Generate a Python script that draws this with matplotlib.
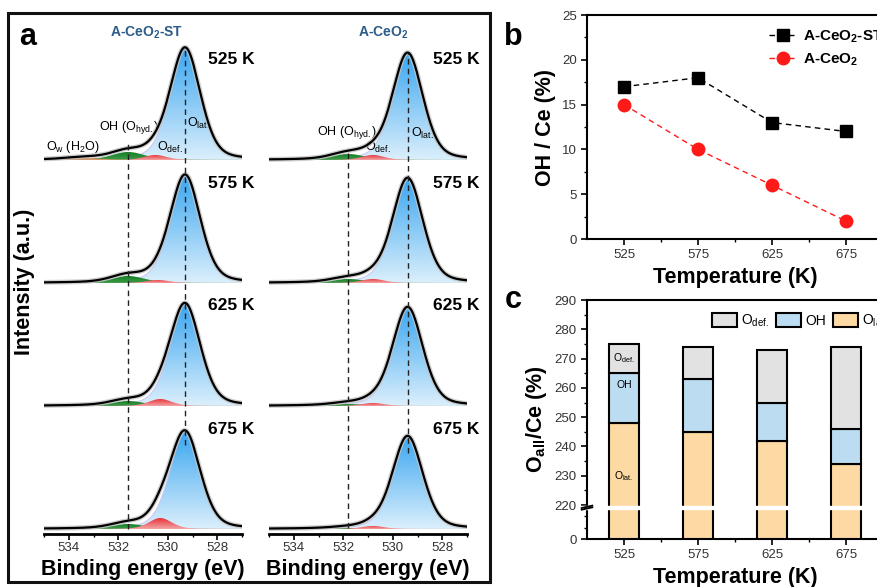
import numpy as np
import matplotlib.pyplot as plt
from matplotlib.colors import LinearSegmentedColormap
from matplotlib.patches import Rectangle, PathPatch

plt.rcParams['font.family'] = ['Liberation Sans', 'DejaVu Sans']
plt.rcParams['mathtext.fontset'] = 'custom'
plt.rcParams['mathtext.rm'] = 'Liberation Sans'
plt.rcParams['mathtext.it'] = 'Liberation Sans:italic'
plt.rcParams['mathtext.bf'] = 'Liberation Sans:bold'

# ---- data ----
temps = [525, 575, 625, 675]
temp_labels = ['525 K', '575 K', '625 K', '675 K']

# panel a: fitted XPS O 1s components (height in a.u., position/fwhm in eV)
offsets = [369, 246, 123, 0]
st_lat_pos, st_oh_pos, st_w_pos = 529.3, 531.6, 533.4
st_def_pos = [530.5, 530.4, 530.3, 530.3]
st_lat_h = [112, 108, 102, 97]
st_oh_h = [8, 7, 5, 5]
st_def_h = [5, 3, 7, 11]
st_w_h = [2, 0, 0, 0]
ce_lat_pos, ce_oh_pos, ce_def_pos = 529.4, 531.8, 530.8
ce_lat_h = [107, 105, 99, 93]
ce_oh_h = [6, 4, 2, 1]
ce_def_h = [5, 4, 3, 3]
fwhm_lat, fwhm_oh, fwhm_def, fwhm_w = 1.45, 1.6, 1.1, 1.8

# panel b
oh_st = [17, 18, 13, 12]
oh_ce = [15, 10, 6, 2]

# panel c
o_lat = [248, 245, 242, 234]
o_oh = [17, 18, 13, 12]
o_def = [10, 11, 18, 28]

W, H = 878, 587
fig = plt.figure(figsize=(W / 100, H / 100), dpi=100)


def px(x0, y0, x1, y1):
    # pixel box -> figure fraction [left, bottom, width, height]
    return [x0 / W, 1 - y1 / H, (x1 - x0) / W, (y1 - y0) / H]


def peak(x, c, h, fwhm, eta=0.3):
    s = fwhm / 2.3548
    g = np.exp(-(x - c) ** 2 / (2 * s ** 2))
    l = 1 / (1 + ((x - c) / (fwhm / 2)) ** 2)
    return h * ((1 - eta) * g + eta * l)


def grad_fill(ax, x, y0, y, c_top, c_bot, z):
    poly = ax.fill_between(x, y0, y, color='none', lw=0)
    patch = PathPatch(poly.get_paths()[0], transform=ax.transData, fc='none', ec='none')
    ax.add_patch(patch)
    cmap = LinearSegmentedColormap.from_list('g', [c_bot, c_top])
    img = np.linspace(0, 1, 100).reshape(-1, 1)
    im = ax.imshow(img, extent=[x.min(), x.max(), y0, y.max() + 0.01], origin='lower',
                   aspect='auto', cmap=cmap, zorder=z, interpolation='bilinear')
    im.set_clip_path(patch)


x = np.linspace(527, 535, 600)


def spectra(ax, lat_pos, lat_h, oh_pos, oh_h, def_pos, def_h, w_h):
    for i in range(4):
        b = offsets[i]
        dp = def_pos[i] if isinstance(def_pos, list) else def_pos
        lat = peak(x, lat_pos, lat_h[i], fwhm_lat)
        oh = peak(x, oh_pos, oh_h[i], fwhm_oh)
        de = peak(x, dp, def_h[i], fwhm_def)
        ow = peak(x, st_w_pos, w_h[i], fwhm_w) if w_h else 0 * x
        env = lat + oh + de + ow
        grad_fill(ax, x, b, b + lat, '#3aa6f0', '#dbeffc', 2)
        ax.plot(x, b + lat, color='#c9c4f4', lw=0.7, zorder=2.1)
        if oh_h[i] > 0:
            grad_fill(ax, x, b, b + oh, '#137a24', '#3c9c48', 3)
        grad_fill(ax, x, b, b + de, '#e8262e', '#f3a5a5', 3.5)
        if w_h and w_h[i] > 0:
            grad_fill(ax, x, b, b + ow, '#b86a2a', '#d9a070', 3.2)
        ax.plot(x, b + env, color='#c2c2c2', lw=3.5, alpha=0.8, zorder=4)
        ax.plot(x, b + env, color='black', lw=1.6, zorder=5)
        ax.text(527.43, b + 100, temp_labels[i], ha='center', va='center',
                fontsize=12.5, fontweight='bold')
    ax.set_xlim(535, 527)
    ax.set_ylim(-5, 499)
    ax.set_yticks([])
    for s in ['left', 'right', 'top']:
        ax.spines[s].set_visible(False)
    ax.spines['bottom'].set_linewidth(2)
    ax.set_xticks([534, 532, 530, 528])
    ax.set_xticks(np.arange(527, 535.1, 1), minor=True)
    ax.tick_params(axis='x', which='major', length=4, width=1.2, labelsize=9.5,
                   labelcolor='#333333', pad=2)
    ax.tick_params(axis='x', which='minor', length=2.5, width=1)
    ax.set_xlabel('Binding energy (eV)', fontsize=15.5, fontweight='bold', labelpad=3)


# panel a left
axL = fig.add_axes(px(44, 30, 242, 534))
spectra(axL, st_lat_pos, st_lat_h, st_oh_pos, st_oh_h, st_def_pos, st_def_h, st_w_h)
axL.plot([531.6, 531.6], [0, 388], ls=(0, (4, 3)), color='#222222', lw=1, zorder=6)
axL.plot([529.3, 529.3], [84, 482], ls=(0, (4, 3)), color='#222222', lw=1, zorder=6)
axL.text(533.84, 382, r'O$_\mathrm{w}$ (H$_2$O)', ha='center', va='center', fontsize=9)
axL.text(531.55, 401, r'OH (O$_\mathrm{hyd.}$)', ha='center', va='center', fontsize=9)
axL.text(529.92, 382, r'O$_\mathrm{def.}$', ha='center', va='center', fontsize=9)
axL.text(529.22, 406, r'O$_\mathrm{lat.}$', ha='left', va='center', fontsize=9)
axL.set_ylabel('Intensity (a.u.)', fontsize=15.5, fontweight='bold')
axL.yaxis.set_label_coords(-0.045, 0.5)

# panel a right
axR = fig.add_axes(px(269, 30, 467, 534))
spectra(axR, ce_lat_pos, ce_lat_h, ce_oh_pos, ce_oh_h, ce_def_pos, ce_def_h, None)
axR.plot([531.8, 531.8], [1, 376], ls=(0, (4, 3)), color='#222222', lw=1, zorder=6)
axR.plot([529.4, 529.4], [76, 476], ls=(0, (4, 3)), color='#222222', lw=1, zorder=6)
axR.text(531.84, 396, r'OH (O$_\mathrm{hyd.}$)', ha='center', va='center', fontsize=9)
axR.text(530.6, 382, r'O$_\mathrm{def.}$', ha='center', va='center', fontsize=9)
axR.text(529.27, 396, r'O$_\mathrm{lat.}$', ha='left', va='center', fontsize=9)

fig.text(147 / W, 1 - 33 / H, r'A-CeO$_\mathbf{2}$-ST', ha='center', va='center',
         fontsize=10, fontweight='bold', color='#2d5b8a')
fig.text(383 / W, 1 - 33 / H, r'A-CeO$_\mathbf{2}$', ha='center', va='center',
         fontsize=10, fontweight='bold', color='#2d5b8a')
fig.text(28 / W, 1 - 37 / H, 'a', ha='center', va='center', fontsize=22, fontweight='bold')
fig.add_artist(Rectangle((8 / W, 1 - 582 / H), 482 / W, 569 / H, transform=fig.transFigure,
                         fill=False, lw=2.2, ec='#111111'))


def style_axes(ax):
    for s in ax.spines.values():
        s.set_linewidth(1.5)
    ax.tick_params(which='major', direction='out', length=4, width=1.2, labelsize=9.5,
                   labelcolor='#333333')
    ax.tick_params(which='minor', direction='out', length=2.5, width=1)
    ax.set_xticks(temps)
    ax.set_xticks([550, 600, 650], minor=True)
    ax.set_xlim(500, 700)
    ax.set_xlabel('Temperature (K)', fontsize=15.5, fontweight='bold', labelpad=4)


# panel b
axb = fig.add_axes(px(587, 15, 883, 239))
axb.plot(temps, oh_st, ls=(0, (4, 3)), color='black', lw=1, marker='s', ms=8,
         label=r'A-CeO$_\mathbf{2}$-ST')
axb.plot(temps, oh_ce, ls=(0, (4, 3)), color='#ff1a1a', lw=1, marker='o', ms=9,
         label=r'A-CeO$_\mathbf{2}$')
axb.set_ylim(0, 25)
axb.set_yticks([0, 5, 10, 15, 20, 25])
axb.set_yticks(np.arange(2.5, 25, 5), minor=True)
style_axes(axb)
axb.set_ylabel('OH / Ce (%)', fontsize=15.5, fontweight='bold', labelpad=4)
leg = axb.legend(loc='upper left', bbox_to_anchor=(0.57, 1.0), frameon=False,
                 prop={'weight': 'bold', 'size': 11}, handlelength=1.8,
                 handletextpad=0.4, labelspacing=0.4)
fig.text(513 / W, 1 - 37 / H, 'b', ha='center', va='center', fontsize=22, fontweight='bold')

# panel c (broken y axis via a piecewise linear scale)
brk, low_span = 220, 11.6


def fwd(v):
    v = np.asarray(v, dtype=float)
    return np.where(v >= brk, v - brk, (v / brk - 1) * low_span)


def inv(t):
    t = np.asarray(t, dtype=float)
    return np.where(t >= 0, t + brk, (t / low_span + 1) * brk)


axc = fig.add_axes(px(587, 300, 883, 539))
axc.set_yscale('function', functions=(fwd, inv))
bot2 = np.array(o_lat) + np.array(o_oh)
axc.bar(temps, o_lat, width=20, color='#fdd9a3', ec='black', lw=1.5, label=r'O$_\mathrm{lat.}$', zorder=3)
axc.bar(temps, o_oh, bottom=o_lat, width=20, color='#bcdcf1', ec='black', lw=1.5, label='OH', zorder=3)
axc.bar(temps, o_def, bottom=bot2, width=20, color='#e2e2e2', ec='black', lw=1.5,
        label=r'O$_\mathrm{def.}$', zorder=3)
axc.set_ylim(0, 290)
axc.set_yticks([0, 220, 230, 240, 250, 260, 270, 280, 290])
axc.set_yticks([73, 147, 225, 235, 245, 255, 265, 275, 285], minor=True)
style_axes(axc)
axc.axhspan(193, 213, xmin=-0.02, xmax=1, color='white', zorder=6, clip_on=False)
for yy in [(190, 205), (201, 216)]:
    axc.plot([-0.018, 0.018], yy, color='black', lw=1.3, transform=axc.get_yaxis_transform(),
             clip_on=False, zorder=7)
axc.text(525, 270, r'O$_\mathrm{def.}$', ha='center', va='center', fontsize=7.5, zorder=4)
axc.text(525, 261, 'OH', ha='center', va='center', fontsize=7.5, zorder=4)
axc.text(525, 230, r'O$_\mathrm{lat.}$', ha='center', va='center', fontsize=7.5, zorder=4)
axc.set_ylabel(r'O$_\mathbf{all}$/Ce (%)', fontsize=15.5, fontweight='bold', labelpad=4)
h, l = axc.get_legend_handles_labels()
axc.legend(h[::-1], l[::-1], loc='upper left', bbox_to_anchor=(0.38, 1.0), ncol=3, frameon=False,
           fontsize=10, handlelength=1.8, handleheight=1.2, handletextpad=0.3, columnspacing=0.5)
fig.text(513 / W, 1 - 300 / H, 'c', ha='center', va='center', fontsize=22, fontweight='bold')

fig.savefig('out.png', dpi=100)
